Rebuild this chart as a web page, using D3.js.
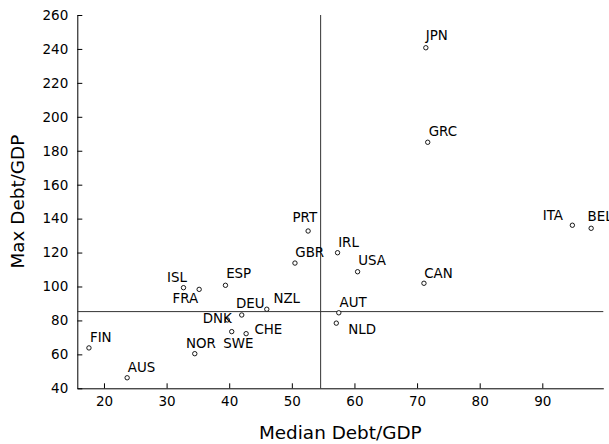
<!DOCTYPE html>
<html>
<head>
<meta charset="utf-8">
<script src="https://cdn.jsdelivr.net/npm/d3@7"></script>
<style>
  body { margin: 0; background: #fff; }
  text { font-family: "DejaVu Sans", sans-serif; fill: #000; }
  .axis path, .axis line { stroke: #000; }
</style>
</head>
<body>
<div id="chart"></div>
<script>
var w = 609, h = 444;

// data
var countries = ["JPN","GRC","ITA","BEL","PRT","GBR","IRL","USA","CAN","AUT","NLD",
                 "ISL","FRA","ESP","DEU","NZL","DNK","SWE","CHE","NOR","FIN","AUS"];
var medianDebt = [71.4, 71.7, 94.8, 97.8, 52.6, 50.5, 57.3, 60.5, 71.1, 57.5, 57.1,
                  32.7, 35.2, 39.4, 42.0, 46.0, 39.7, 40.4, 42.7, 34.5, 17.6, 23.7];
var maxDebt = [240.7, 185.0, 136.1, 134.3, 132.7, 113.8, 119.9, 108.7, 101.9, 84.5, 78.4,
               99.3, 98.3, 100.7, 83.2, 86.6, 80.3, 73.4, 72.2, 60.4, 63.8, 46.2];
var refMedian = 54.6, refMax = 85.2;
var xTicks = [20, 30, 40, 50, 60, 70, 80, 90];
var yTicks = [40, 60, 80, 100, 120, 140, 160, 180, 200, 220, 240, 260];

// where each label sits relative to its marker (px)
var labelShift = {
  JPN: [0, -8], GRC: [1, -6], ITA: [-29.6, -5.3], BEL: [-3.6, -7.6], PRT: [-15.6, -9.3],
  GBR: [0.3, -6.3], IRL: [0.6, -6], USA: [0.6, -6.7], CAN: [0.3, -5.6], AUT: [0.8, -6.1],
  NLD: [12, 11.1], ISL: [-16.4, -5.4], FRA: [-26.7, 14], ESP: [0.7, -7], DEU: [-5.7, -6.7],
  NZL: [6.6, -6], DNK: [-24.6, 2.7], SWE: [-8.4, 16], CHE: [8.3, 0.6], NOR: [-8.7, -6],
  FIN: [1, -5.7], AUS: [0.7, -6]
};

var points = countries.map(function(c, i) {
  return { name: c, x: medianDebt[i], y: maxDebt[i] };
});

var pLeft = 77.3, pRight = 603.3, pTop = 15, pBottom = 388.3;

var x = d3.scaleLinear().domain([15.74, 99.74]).range([pLeft, pRight]);
var y = d3.scaleLinear().domain([40, 260]).range([pBottom, pTop]);

var svg = d3.select("#chart").append("svg").attr("width", w).attr("height", h);

// axes, ticks pointing inward
var gx = svg.append("g").attr("class", "axis")
  .attr("transform", "translate(0," + pBottom + ")")
  .call(d3.axisBottom(x).tickValues(xTicks).tickSizeInner(-5).tickSizeOuter(0).tickPadding(8.5));
var gy = svg.append("g").attr("class", "axis")
  .attr("transform", "translate(" + pLeft + ",0)")
  .call(d3.axisLeft(y).tickValues(yTicks).tickSizeInner(-5).tickSizeOuter(0).tickPadding(9));
svg.selectAll(".axis").attr("font-size", null).attr("font-family", null);
svg.selectAll(".axis text").style("font-size", "13.5px");

// reference lines
svg.append("line")
  .attr("x1", x(refMedian)).attr("x2", x(refMedian))
  .attr("y1", pTop).attr("y2", pBottom)
  .attr("stroke", "#333").attr("stroke-width", 1);
svg.append("line")
  .attr("x1", pLeft).attr("x2", pRight)
  .attr("y1", y(refMax)).attr("y2", y(refMax))
  .attr("stroke", "#333").attr("stroke-width", 1);

// markers
svg.selectAll("circle.pt").data(points).enter().append("circle")
  .attr("class", "pt")
  .attr("cx", function(d) { return x(d.x); })
  .attr("cy", function(d) { return y(d.y); })
  .attr("r", 2.2)
  .attr("fill", "#fff").attr("stroke", "#000").attr("stroke-width", 0.9);

// labels
svg.selectAll("text.lbl").data(points).enter().append("text")
  .attr("class", "lbl")
  .attr("x", function(d) { return x(d.x) + labelShift[d.name][0]; })
  .attr("y", function(d) { return y(d.y) + labelShift[d.name][1]; })
  .style("font-size", "13.4px")
  .text(function(d) { return d.name; });

// axis titles
svg.append("text")
  .attr("x", (pLeft + pRight) / 2).attr("y", 439)
  .attr("text-anchor", "middle")
  .style("font-size", "18.4px")
  .text("Median Debt/GDP");
svg.append("text")
  .attr("transform", "translate(24," + (pTop + pBottom) / 2 + ") rotate(-90)")
  .attr("text-anchor", "middle")
  .style("font-size", "18.4px")
  .text("Max Debt/GDP");
</script>
</body>
</html>
